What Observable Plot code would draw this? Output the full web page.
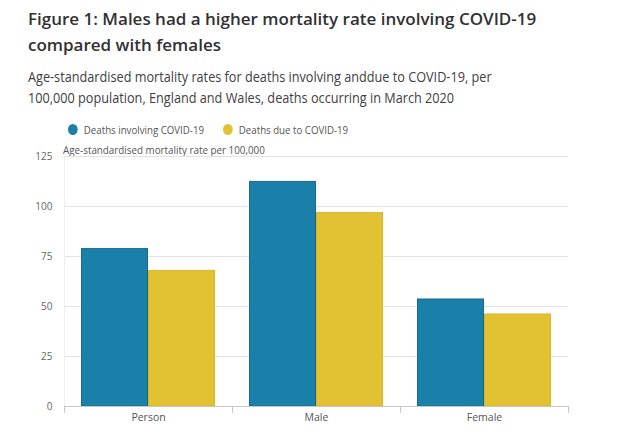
<!DOCTYPE html>
<html>
<head>
<meta charset="utf-8">
<script src="https://cdn.jsdelivr.net/npm/d3@7"></script>
<script src="https://cdn.jsdelivr.net/npm/@observablehq/plot@0.6"></script>
<style>
  html, body { margin: 0; padding: 0; background: #fff; }
  body { width: 634px; height: 444px; position: relative; overflow: hidden; font-family: "Open Sans", sans-serif; }
  .title { position: absolute; left: 28px; top: 6px; font-size: 17px; font-weight: 600; line-height: 26px; color: #323132; white-space: nowrap; }
  .subtitle { position: absolute; left: 28px; top: 66px; font-size: 14px; line-height: 21px; color: #414042; white-space: nowrap; transform: scaleX(0.906); transform-origin: left top; }
  .legend { position: absolute; left: 0; top: 122px; font-size: 11px; color: #555; white-space: nowrap; }
  .legend span { position: absolute; display: inline-flex; align-items: center; transform: scaleX(0.88); transform-origin: left center; }
  .legend span:nth-child(1) { left: 68px; }
  .legend span:nth-child(2) { left: 223px; }
  .legend i { display: inline-block; width: 11px; height: 11px; border-radius: 50%; margin-right: 7px; }
  .ylabel { position: absolute; left: 63px; top: 143px; font-size: 10.5px; color: #555; white-space: nowrap; transform: scaleX(0.935); transform-origin: left top; }
  #chart { position: absolute; left: 0; top: 140px; }
</style>
</head>
<body>
<div class="title">Figure 1: Males had a higher mortality rate involving COVID-19<br>compared with females</div>
<div class="subtitle">Age-standardised mortality rates for deaths involving anddue to COVID-19, per<br>100,000 population, England and Wales, deaths occurring in March 2020</div>
<div class="legend" id="legend"></div>
<div class="ylabel">Age-standardised mortality rate per 100,000</div>
<div id="chart"></div>
<script>
const categories = ["Person", "Male", "Female"];
const series = ["Deaths involving COVID-19", "Deaths due to COVID-19"];
const involving = [78.7, 112.3, 53.5];
const dueTo = [67.8, 96.7, 46.0];
const yTicks = [0, 25, 50, 75, 100, 125];
const colors = ["#1a80aa", "#e2c232"];
const strokes = ["#17698c", "#d6b52c"];

const data = [];
categories.forEach((c, i) => {
  data.push({category: c, series: series[0], value: involving[i]});
  data.push({category: c, series: series[1], value: dueTo[i]});
});

const legend = document.getElementById("legend");
series.forEach((s, i) => {
  const span = document.createElement("span");
  span.innerHTML = `<i style="background:${colors[i]}"></i>${s}`;
  legend.appendChild(span);
});

const chart = Plot.plot({
  width: 634,
  height: 304,
  marginLeft: 63,
  marginRight: 66,
  marginTop: 16,
  marginBottom: 38,
  style: {fontFamily: "Open Sans, sans-serif", fontSize: "10px", color: "#555"},
  fx: {domain: categories, padding: 0, label: null},
  x: {domain: series, paddingInner: 0, paddingOuter: 0.25, axis: null},
  y: {domain: [0, 125], ticks: yTicks, label: null},
  color: {domain: series, range: colors},
  marks: [
    Plot.ruleY(yTicks.filter(d => d > 0), {stroke: "#e3e3e3", strokeWidth: 1}),
    Plot.axisY({ticks: yTicks, tickSize: 0, tickPadding: 12, label: null, fill: "#666", fontSize: 10}),
    Plot.axisFx({anchor: "bottom", tickSize: 0, tickPadding: 7, label: null, fill: "#555", fontSize: 10.5}),
    Plot.barY(data, {fx: "category", x: "series", y: "value", fill: "series",
      stroke: d => strokes[series.indexOf(d.series)], strokeWidth: 1, insetLeft: 0.5, insetRight: 0.5}),
    Plot.ruleY([0], {stroke: "#c8c8c8", strokeWidth: 1})
  ]
});
document.getElementById("chart").appendChild(chart);

// category separators at the fx band edges
const fx = chart.scale("fx");
const y = chart.scale("y");
const svg = d3.select(chart);
const y0 = y.apply(0);
const yTop = y.apply(125);
const edges = categories.map(c => fx.apply(c)).concat([fx.apply(categories[categories.length - 1]) + fx.bandwidth]);
const g = svg.append("g");
g.append("line").attr("x1", edges[0] + 0.5).attr("x2", edges[0] + 0.5).attr("y1", yTop).attr("y2", y0)
  .attr("stroke", "#eeeeee");
edges.forEach(x => {
  g.append("line").attr("x1", x + 0.5).attr("x2", x + 0.5).attr("y1", y0).attr("y2", y0 + 7)
    .attr("stroke", "#c8c8c8");
});
</script>
</body>
</html>
